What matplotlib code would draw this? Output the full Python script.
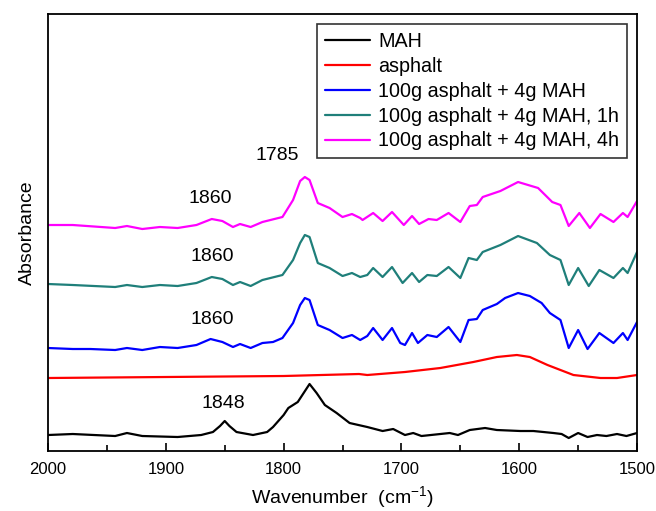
import matplotlib
matplotlib.use("Agg")
import matplotlib.pyplot as plt
from matplotlib.ticker import MultipleLocator

plt.rcParams['font.family'] = ['Liberation Sans', 'DejaVu Sans']
plt.rcParams['mathtext.fontset'] = 'custom'
plt.rcParams['mathtext.rm'] = 'Liberation Sans'
plt.rcParams['mathtext.it'] = 'Liberation Sans:italic'

# FTIR spectra (absorbance in arbitrary, offset units)
wn_mah = [2000, 1979, 1943, 1933, 1920, 1890, 1870, 1860, 1854, 1850, 1846, 1840,
          1826, 1814, 1809, 1800, 1796, 1788, 1783, 1778, 1772, 1765, 1755, 1744,
          1729, 1716, 1707, 1697, 1690, 1683, 1667, 1659, 1652, 1642, 1629, 1619,
          1599, 1588, 1571, 1564, 1558, 1550, 1542, 1534, 1526, 1517, 1509, 1500]
abs_mah = [0.16, 0.17, 0.15, 0.18, 0.15, 0.14, 0.16, 0.19, 0.25, 0.30, 0.25, 0.19,
           0.16, 0.19, 0.24, 0.36, 0.43, 0.49, 0.58, 0.67, 0.58, 0.46, 0.38, 0.28,
           0.24, 0.20, 0.22, 0.16, 0.18, 0.15, 0.17, 0.18, 0.16, 0.21, 0.23, 0.21,
           0.20, 0.20, 0.18, 0.17, 0.13, 0.18, 0.14, 0.16, 0.15, 0.17, 0.15, 0.18]

wn_asp = [2000, 1900, 1800, 1736, 1729, 1697, 1667, 1639, 1619, 1602, 1591, 1576,
          1554, 1531, 1517, 1500]
abs_asp = [0.73, 0.74, 0.75, 0.77, 0.76, 0.79, 0.83, 0.89, 0.94, 0.96, 0.94, 0.86,
           0.76, 0.73, 0.73, 0.76]

wn_mix = [2000, 1979, 1964, 1943, 1933, 1920, 1905, 1890, 1874, 1862, 1852, 1843,
          1837, 1828, 1818, 1809, 1801, 1792, 1786, 1782, 1778, 1771, 1761, 1750,
          1742, 1735, 1729, 1724, 1716, 1708, 1701, 1697, 1691, 1686, 1678, 1670,
          1660, 1650, 1643, 1636, 1631, 1619, 1612, 1601, 1591, 1581, 1574, 1565,
          1558, 1550, 1542, 1532, 1520, 1512, 1508, 1500]
abs_mix = [1.03, 1.02, 1.02, 1.01, 1.03, 1.01, 1.04, 1.03, 1.06, 1.12, 1.09, 1.04,
           1.07, 1.03, 1.08, 1.09, 1.13, 1.28, 1.46, 1.53, 1.51, 1.26, 1.21, 1.13,
           1.16, 1.11, 1.15, 1.23, 1.11, 1.23, 1.08, 1.06, 1.18, 1.08, 1.16, 1.14,
           1.24, 1.09, 1.31, 1.32, 1.41, 1.47, 1.53, 1.58, 1.55, 1.48, 1.38, 1.31,
           1.03, 1.21, 1.02, 1.18, 1.08, 1.18, 1.11, 1.29]

wn_1h = [2000, 1979, 1943, 1933, 1920, 1905, 1890, 1874, 1861, 1852, 1843, 1837,
         1828, 1818, 1801, 1792, 1786, 1782, 1778, 1771, 1761, 1750, 1742, 1735,
         1729, 1724, 1716, 1708, 1699, 1691, 1685, 1678, 1670, 1660, 1650, 1643,
         1636, 1631, 1616, 1601, 1585, 1574, 1565, 1558, 1550, 1541, 1532, 1520,
         1512, 1508, 1500]
abs_1h = [1.67, 1.66, 1.64, 1.66, 1.64, 1.66, 1.65, 1.68, 1.74, 1.72, 1.66, 1.69,
          1.65, 1.71, 1.76, 1.91, 2.08, 2.16, 2.14, 1.88, 1.83, 1.75, 1.78, 1.74,
          1.76, 1.83, 1.74, 1.84, 1.68, 1.78, 1.69, 1.76, 1.75, 1.84, 1.73, 1.93,
          1.91, 1.99, 2.06, 2.15, 2.08, 1.96, 1.91, 1.66, 1.83, 1.65, 1.81, 1.73,
          1.83, 1.78, 1.99]

wn_4h = [2000, 1979, 1943, 1933, 1920, 1905, 1890, 1874, 1861, 1852, 1843, 1837,
         1828, 1818, 1801, 1792, 1786, 1782, 1778, 1771, 1761, 1750, 1742, 1735,
         1733, 1724, 1716, 1708, 1698, 1691, 1685, 1677, 1670, 1660, 1650, 1642,
         1636, 1631, 1616, 1601, 1584, 1572, 1565, 1558, 1549, 1540, 1531, 1520,
         1512, 1508, 1500]
abs_4h = [2.26, 2.26, 2.23, 2.25, 2.22, 2.24, 2.23, 2.26, 2.32, 2.30, 2.24, 2.27,
          2.24, 2.29, 2.34, 2.51, 2.70, 2.74, 2.71, 2.48, 2.43, 2.34, 2.37, 2.33,
          2.31, 2.38, 2.30, 2.39, 2.26, 2.35, 2.27, 2.32, 2.31, 2.38, 2.29, 2.45,
          2.46, 2.54, 2.60, 2.69, 2.63, 2.49, 2.46, 2.25, 2.38, 2.23, 2.37, 2.29,
          2.38, 2.34, 2.50]

labels = ["MAH", "asphalt", "100g asphalt + 4g MAH",
          "100g asphalt + 4g MAH, 1h", "100g asphalt + 4g MAH, 4h"]
colors = ["black", "red", "blue", "#1f7f7a", "magenta"]

# peak labels: (text, wavenumber, absorbance)
peak_notes = [("1785", 1805, 2.96), ("1860", 1862, 2.53),
              ("1860", 1861, 1.95), ("1860", 1861, 1.32), ("1848", 1851, 0.48)]

fig = plt.figure(figsize=(6.56, 5.11), dpi=100)
ax = fig.add_axes([0.0732, 0.1174, 0.8979, 0.8552])

series = [(wn_mah, abs_mah), (wn_asp, abs_asp), (wn_mix, abs_mix),
          (wn_1h, abs_1h), (wn_4h, abs_4h)]
for (wn, ab), lab, col in zip(series, labels, colors):
    ax.plot(wn, ab, color=col, lw=1.6, label=lab,
            solid_joinstyle="round", solid_capstyle="round")

for txt, w, a in peak_notes:
    ax.text(w, a, txt, fontsize=14, ha="center", va="center")

ax.set_xlim(2000, 1500)
ax.set_ylim(0, 4.37)
ax.xaxis.set_major_locator(MultipleLocator(100))
ax.xaxis.set_minor_locator(MultipleLocator(50))
ax.tick_params(axis="x", which="major", direction="in", length=6, width=1.2,
               labelsize=12, pad=8)
ax.tick_params(axis="x", which="minor", direction="in", length=4, width=1.2)
ax.set_yticks([])
for sp in ax.spines.values():
    sp.set_linewidth(1.3)

ax.set_xlabel("Wavenumber  (cm$^{-1}$)", fontsize=14, labelpad=5)
ax.set_ylabel("Absorbance", fontsize=14, labelpad=9)

leg = ax.legend(loc="upper right", fontsize=14.2, handlelength=2.3,
                labelspacing=0.3, borderaxespad=0.5, fancybox=False,
                edgecolor="#333333", framealpha=1, handletextpad=0.4,
                borderpad=0.4)
leg.get_frame().set_linewidth(1.2)

fig.savefig("out.png", dpi=100)
